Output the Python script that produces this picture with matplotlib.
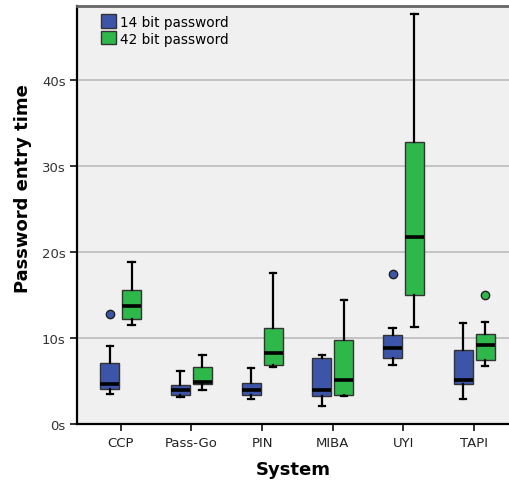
import matplotlib
matplotlib.use("Agg")
import matplotlib.pyplot as plt
from matplotlib.patches import Patch

# Systems on the x axis
systems = ["CCP", "Pass-Go", "PIN", "MIBA", "UYI", "TAPI"]

# 14 bit password, box statistics in seconds
low14 = [3.5, 3.1, 2.9, 2.1, 6.9, 2.9]
q1_14 = [4.1, 3.4, 3.4, 3.2, 7.7, 4.6]
med14 = [4.6, 4.0, 4.0, 4.0, 8.8, 5.1]
q3_14 = [7.1, 4.5, 4.8, 7.7, 10.3, 8.6]
high14 = [9.1, 6.1, 6.5, 8.0, 11.2, 11.7]
out14 = [[12.8], [], [], [], [17.4], []]

# 42 bit password, box statistics in seconds
low42 = [11.5, 3.9, 6.6, 3.2, 11.3, 6.7]
q1_42 = [12.2, 4.6, 6.9, 3.4, 15.0, 7.4]
med42 = [13.7, 4.9, 8.3, 5.1, 21.7, 9.2]
q3_42 = [15.6, 6.6, 11.1, 9.7, 32.8, 10.4]
high42 = [18.8, 8.0, 17.5, 14.4, 47.6, 11.9]
out42 = [[], [], [], [], [], [15.0]]

blue = "#3d55a8"
green = "#2fb84a"

fig = plt.figure(figsize=(5.1, 4.81), dpi=100)
ax = fig.add_axes([0.1516, 0.1164, 0.8484, 0.8684])
ax.set_facecolor("#f0f0f0")


def stats(lo, a, m, b, hi, fl):
    return [dict(whislo=lo[i], q1=a[i], med=m[i], q3=b[i], whishi=hi[i], fliers=fl[i])
            for i in range(len(lo))]


def draw(st, off, col):
    pos = [i + off for i in range(len(st))]
    ax.bxp(st, positions=pos, widths=0.27, patch_artist=True, showfliers=True,
           boxprops=dict(facecolor=col, edgecolor="#333333", linewidth=1.0),
           medianprops=dict(color="black", linewidth=2.6),
           whiskerprops=dict(color="black", linewidth=1.6),
           capprops=dict(color="black", linewidth=1.6),
           capwidths=0.09,
           flierprops=dict(marker="o", markerfacecolor=col, markeredgecolor="#222222",
                           markersize=6, markeredgewidth=1.0),
           zorder=3)


draw(stats(low14, q1_14, med14, q3_14, high14, out14), -0.155, blue)
draw(stats(low42, q1_42, med42, q3_42, high42, out42), 0.155, green)

ax.set_xlim(-0.614, 5.507)
ax.set_ylim(0, 48.5)
ax.set_xticks(range(len(systems)))
ax.set_xticklabels(systems, fontsize=9.5, color="#222222")
ax.set_yticks([0, 10, 20, 30, 40])
ax.set_yticklabels(["0s", "10s", "20s", "30s", "40s"], fontsize=9.5, color="#333333")
ax.tick_params(axis="both", direction="out", length=5, width=1.3, color="#222222")
ax.grid(axis="y", color="#c0c0c0", linewidth=1.3, zorder=0)
ax.set_axisbelow(True)

ax.spines["right"].set_visible(False)
ax.spines["top"].set_color("#666666")
ax.spines["top"].set_linewidth(2)
ax.spines["left"].set_linewidth(1.6)
ax.spines["bottom"].set_linewidth(1.6)

ax.set_ylabel("Password entry time", fontsize=13, fontweight="bold")
ax.yaxis.set_label_coords(-0.105, 0.565)
ax.set_xlabel("System", fontsize=13, fontweight="bold", labelpad=8)

handles = [Patch(facecolor=blue, edgecolor="#333333", label="14 bit password"),
           Patch(facecolor=green, edgecolor="#333333", label="42 bit password")]
ax.legend(handles=handles, loc="upper left", bbox_to_anchor=(0.035, 1.0), frameon=False,
          fontsize=9.8, handlelength=1.1, handleheight=1.1, handletextpad=0.3,
          labelspacing=0.2, borderaxespad=0.2)

fig.savefig("out.png", dpi=100)
